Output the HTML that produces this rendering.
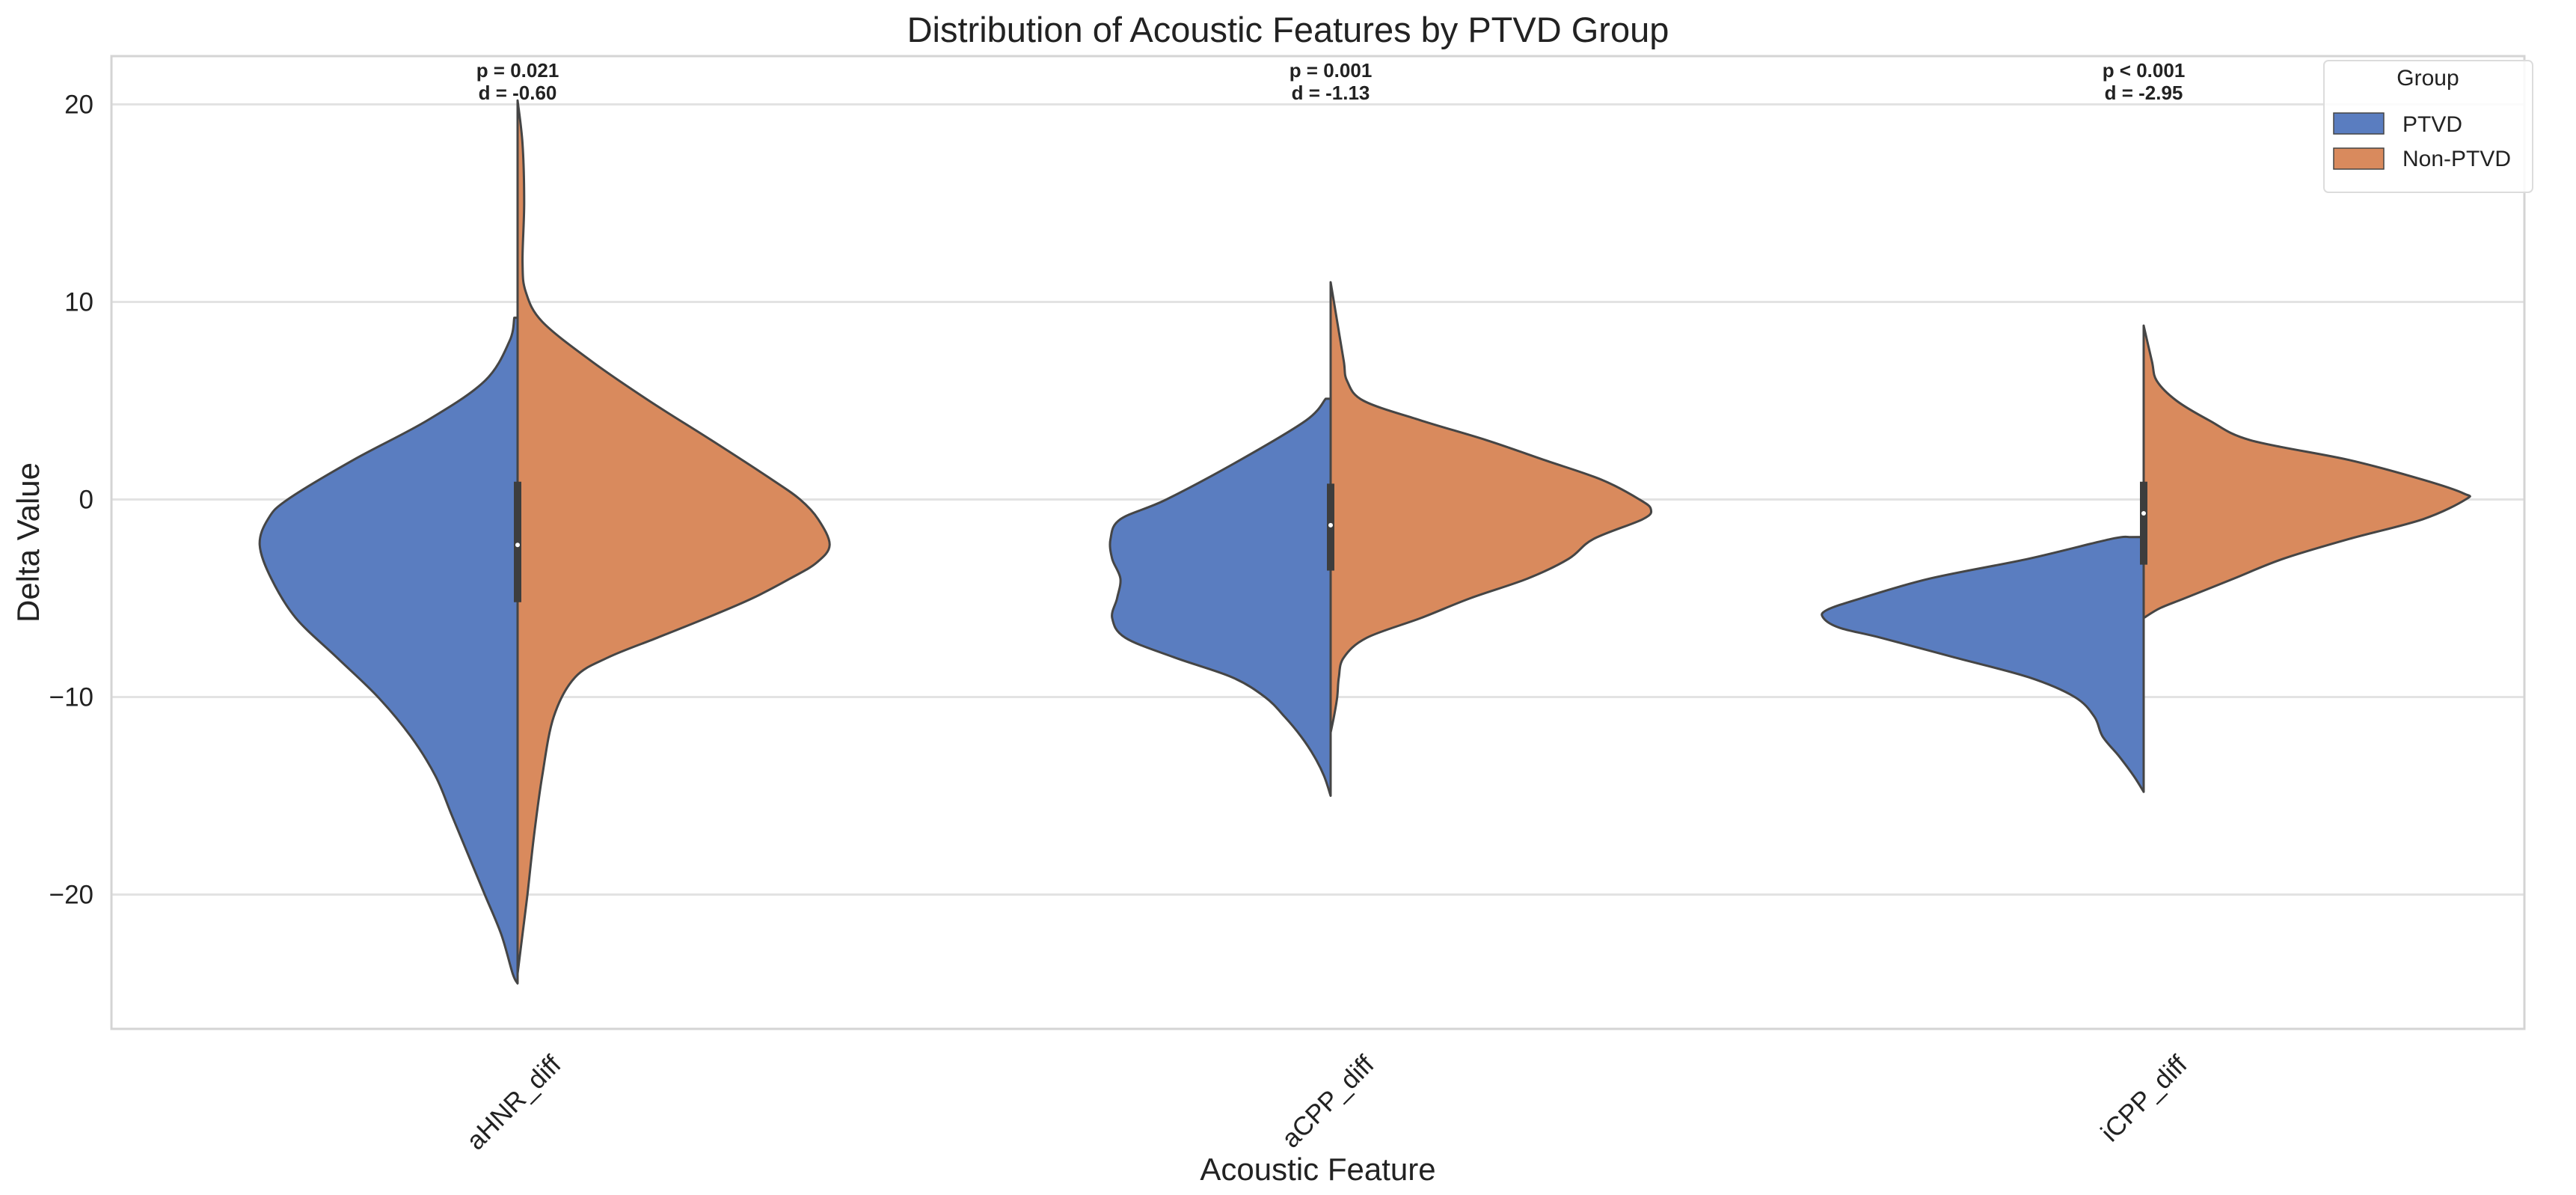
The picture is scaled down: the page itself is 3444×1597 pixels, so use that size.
<!DOCTYPE html>
<html><head><meta charset="utf-8"><style>
html,body{margin:0;padding:0;background:#fff;}
svg{display:block;font-family:"Liberation Sans",sans-serif;}
</style></head><body>
<svg id="chart" width="3444" height="1597" viewBox="0 0 3444 1597" xmlns="http://www.w3.org/2000/svg">
<rect x="0" y="0" width="3444" height="1597" fill="#ffffff"/>
<g id="grid"></g>
<g id="violins"></g>
<rect x="149" y="75" width="3226" height="1300" fill="none" stroke="#d4d4d4" stroke-width="3"/>
<g id="axes"></g>
<text x="1722" y="56" text-anchor="middle" font-size="47" fill="#222">Distribution of Acoustic Features by PTVD Group</text>
<text x="1762" y="1577" text-anchor="middle" font-size="42" fill="#222">Acoustic Feature</text>
<text x="0" y="0" transform="translate(52,725) rotate(-90)" text-anchor="middle" font-size="42" fill="#222">Delta Value</text>
<g>
<rect x="3107" y="81" width="279" height="176" rx="6" fill="#fff" fill-opacity="0.85" stroke="#dcdcdc" stroke-width="2"/>
<text x="3246" y="114" text-anchor="middle" font-size="30" fill="#222">Group</text>
<rect x="3120" y="151" width="67" height="28" fill="#5a7dc0" stroke="#444" stroke-width="1.5"/>
<text x="3212" y="176" font-size="30" fill="#222">PTVD</text>
<rect x="3120" y="198" width="67" height="28" fill="#d98a5d" stroke="#444" stroke-width="1.5"/>
<text x="3212" y="222" font-size="30" fill="#222">Non-PTVD</text>
</g>
</svg>
<script>
const categories = ["aHNR_diff","aCPP_diff","iCPP_diff"];
const yTicks = [20,10,0,-10,-20];
const pLabels = ["p = 0.021","p = 0.001","p < 0.001"];
const dLabels = ["d = -0.60","d = -1.13","d = -2.95"];
// density profiles: [value, density]
const ptvdY = [
 [9.2,8,6,4,2,0,-1,-2.3,-4,-6,-8,-10,-12,-14,-16,-18,-20,-22,-24,-24.5],
 [5.1,4,2,0,-1,-2,-3,-4,-5,-6,-7,-8,-9,-10,-11,-12,-13,-14,-15],
 [-1.9,-2,-3,-4,-5,-5.6,-6,-6.5,-7,-8,-9,-10,-11,-12,-13,-14,-14.8]
];
const ptvdD = [
 [0.02,0.05,0.2,0.55,1.0,1.4,1.52,1.57,1.5,1.35,1.1,0.85,0.65,0.5,0.4,0.3,0.2,0.1,0.03,0],
 [0.03,0.15,0.55,1.0,1.28,1.34,1.33,1.28,1.3,1.33,1.25,0.95,0.6,0.4,0.28,0.18,0.1,0.04,0],
 [0.08,0.2,0.7,1.3,1.72,1.93,1.95,1.85,1.6,1.15,0.7,0.42,0.3,0.25,0.15,0.06,0]
];
const nonY = [
 [20.2,18,15,12,10.5,9,7,5,3,1,0,-1,-2.3,-3.2,-4,-5,-6,-7,-8,-9,-11,-14,-17,-20,-22,-24],
 [11,9,7,6,5,4,3,2,1,0,-0.5,-1,-2,-3,-4,-5,-6,-7,-8,-9,-10,-11,-11.8],
 [8.8,7,6,5,4,3,2,1,0.3,0,-1,-2,-3,-4,-5,-5.5,-6]
];
const nonD = [
 [0,0.03,0.04,0.03,0.05,0.15,0.45,0.8,1.18,1.55,1.72,1.83,1.9,1.82,1.66,1.43,1.15,0.85,0.55,0.35,0.22,0.15,0.1,0.06,0.03,0],
 [0,0.04,0.08,0.1,0.2,0.55,0.95,1.3,1.65,1.88,1.95,1.9,1.6,1.45,1.2,0.85,0.55,0.22,0.08,0.05,0.04,0.02,0],
 [0,0.05,0.08,0.2,0.4,0.65,1.25,1.7,1.95,1.96,1.7,1.25,0.85,0.55,0.25,0.1,0]
];
const q1 = [-5.2,-3.6,-3.3];
const q3 = [0.9,0.8,0.9];
const medians = [-2.3,-1.3,-0.7];

const NS="http://www.w3.org/2000/svg";
const X0=149, X1=3375, Y0=75, Y1=1375;
const yScale = v => 667.5 - v*26.4;
const xScale = i => 692 + i*1087;
const dScale = d => d*219.6;
function mk(tag, attrs, parent){const e=document.createElementNS(NS,tag);for(const k in attrs)e.setAttribute(k,attrs[k]);parent.appendChild(e);return e;}
const grid=document.getElementById('grid'), axes=document.getElementById('axes'), vg=document.getElementById('violins');

yTicks.forEach(t=>{
  const y=yScale(t);
  const l=mk('line',{x1:X0,x2:X1,y1:y,y2:y,stroke:'#e3e3e3','stroke-width':3},grid);
  
  
  const tx=mk('text',{x:125,y:y+12,'text-anchor':'end','font-size':35,fill:'#222'},axes);
  tx.textContent = t<0 ? '\u2212'+Math.abs(t) : String(t);
  
  
});

function smoothPath(pts){
  let d='';
  for(let i=0;i<pts.length-1;i++){
    const p0=pts[Math.max(i-1,0)],p1=pts[i],p2=pts[i+1],p3=pts[Math.min(i+2,pts.length-1)];
    const c1=[p1[0]+(p2[0]-p0[0])/6,p1[1]+(p2[1]-p0[1])/6];
    const c2=[p2[0]-(p3[0]-p1[0])/6,p2[1]-(p3[1]-p1[1])/6];
    d+=' C'+c1[0].toFixed(1)+','+c1[1].toFixed(1)+' '+c2[0].toFixed(1)+','+c2[1].toFixed(1)+' '+p2[0].toFixed(1)+','+p2[1].toFixed(1);
  }
  return d;
}
function half(i, ys, ds, sign, color, name){
  const cx=xScale(i);
  const pts=ys.map((v,k)=>[cx+sign*dScale(ds[k]), yScale(v)]);
  let d='M'+cx+','+yScale(ys[0])+' L'+pts[0][0].toFixed(1)+','+pts[0][1].toFixed(1)+smoothPath(pts);
  d+=' L'+cx+','+yScale(ys[ys.length-1])+' Z';
  const p=mk('path',{d:d,fill:color,stroke:'#454545','stroke-width':3,'stroke-linejoin':'round'},vg);
  
  
}
categories.forEach((c,i)=>{
  half(i, ptvdY[i], ptvdD[i], -1, '#5a7dc0', 'violin-ptvd-'+c);
  half(i, nonY[i], nonD[i], 1, '#d98a5d', 'violin-non-ptvd-'+c);
  const cx=xScale(i);
  const b=mk('rect',{x:cx-5,y:yScale(q3[i]),width:10,height:yScale(q1[i])-yScale(q3[i]),fill:'#3d3d3d'},vg);
  
  
  const m=mk('circle',{cx:cx,cy:yScale(medians[i]),r:3,fill:'#fff'},vg);
  
  
  const t1=mk('text',{x:cx,y:103,'text-anchor':'middle','font-size':26,'font-weight':'bold',fill:'#222'},axes);
  t1.textContent=pLabels[i];
  
  
  const t2=mk('text',{x:cx,y:133,'text-anchor':'middle','font-size':26,'font-weight':'bold',fill:'#222'},axes);
  t2.textContent=dLabels[i];
  
  
  const xl=mk('text',{x:0,y:0,transform:'translate('+(cx+60)+',1425) rotate(-45)','text-anchor':'end','font-size':35,fill:'#222'},axes);
  xl.textContent=c;
  
  
});
</script>
</body></html>
